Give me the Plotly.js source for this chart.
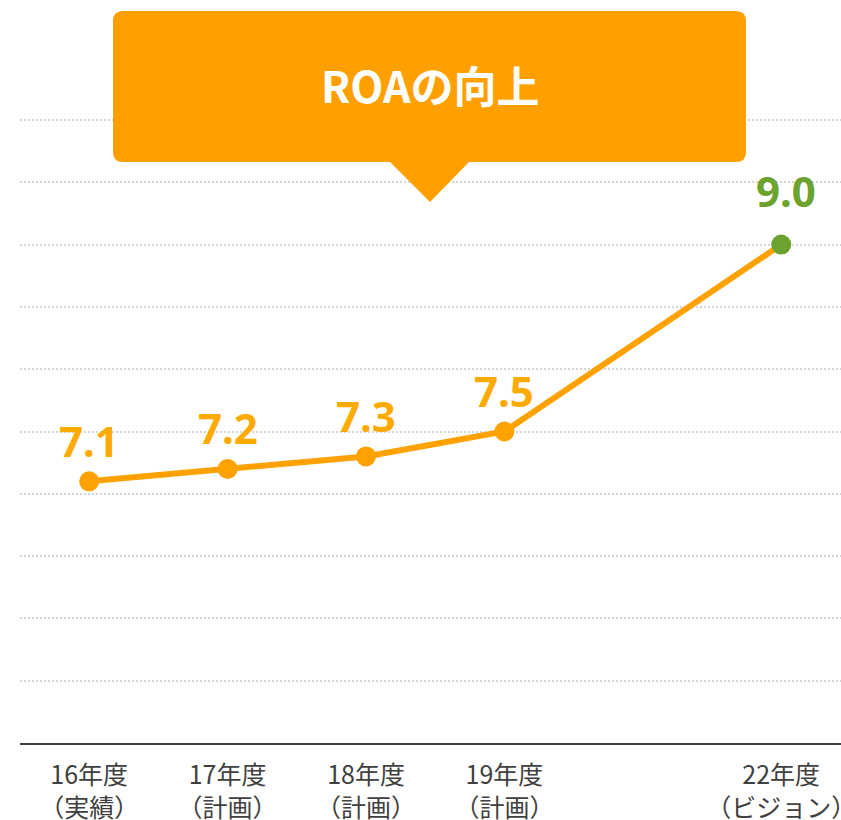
<!DOCTYPE html>
<html><head><meta charset="utf-8">
<script src="https://cdn.plot.ly/plotly-3.0.1.min.js"></script>
<style>html,body{margin:0;padding:0;background:#fff}#chart{width:841px;height:820px}</style>
</head><body><div id="chart"></div>
<script>
const categories = ['16年度<br>（実績）','17年度<br>（計画）','18年度<br>（計画）','19年度<br>（計画）',' ','22年度<br>（ビジョン）'];
const pointCategories = ['16年度<br>（実績）','17年度<br>（計画）','18年度<br>（計画）','19年度<br>（計画）','22年度<br>（ビジョン）'];
const roa = [7.1, 7.2, 7.3, 7.5, 9.0];
const valueLabels = ['7.1','7.2','7.3','7.5','9.0'];
const calloutTitle = 'ROAの向上';

const ORANGE = '#FFA200', LABEL_ORANGE = '#FFAA00', BOX = '#FF9F00', GREEN = '#6BA32E';
const W = 841, H = 820, M = {l:20, r:0, t:10, b:77};
const pw = W - M.l - M.r, ph = H - M.t - M.b;
const fx = X => (X - M.l) / pw;
const fy = Y => (H - M.b - Y) / ph;
const P = (X, Y) => fx(X).toFixed(5) + ',' + fy(Y).toFixed(5);

const bx1 = 113, bx2 = 746, by1 = 11, by2 = 162, r = 10;
const path = 'M' + P(bx1 + r, by1) + ' L' + P(bx2 - r, by1) + ' Q' + P(bx2, by1) + ' ' + P(bx2, by1 + r) +
  ' L' + P(bx2, by2 - r) + ' Q' + P(bx2, by2) + ' ' + P(bx2 - r, by2) +
  ' L' + P(469, by2) + ' L' + P(430, 202) + ' L' + P(390, by2) +
  ' L' + P(bx1 + r, by2) + ' Q' + P(bx1, by2) + ' ' + P(bx1, by2 - r) +
  ' L' + P(bx1, by1 + r) + ' Q' + P(bx1, by1) + ' ' + P(bx1 + r, by1) + ' Z';

const markerColors = roa.map((v, i) => i === roa.length - 1 ? GREEN : ORANGE);
const labelColors = roa.map((v, i) => i === roa.length - 1 ? GREEN : LABEL_ORANGE);

const trace = {
  type: 'scatter', mode: 'lines+markers',
  x: pointCategories, y: roa,
  line: {color: ORANGE, width: 6},
  marker: {color: markerColors, size: 20},
  hoverinfo: 'skip', cliponaxis: false
};

const annotations = roa.map((v, i) => ({
  x: pointCategories[i], y: v, xref: 'x', yref: 'y',
  text: valueLabels[i], showarrow: false,
  yanchor: 'middle', xanchor: 'center',
  yshift: i === roa.length - 1 ? 54 : 41,
  xshift: i === roa.length - 1 ? 5 : 0,
  font: {family: 'Noto Sans, sans-serif', size: 42, weight: 'bold', color: labelColors[i]}
}));
annotations.push({
  xref: 'paper', yref: 'paper', x: fx(430), y: fy(84),
  text: calloutTitle, showarrow: false, xanchor: 'center', yanchor: 'middle',
  font: {family: 'Noto Sans CJK JP, sans-serif', size: 43, weight: 'bold', color: '#ffffff'}
});

const layout = {
  width: W, height: H,
  margin: M,
  paper_bgcolor: '#ffffff', plot_bgcolor: '#ffffff',
  showlegend: false,
  xaxis: {
    type: 'category', categoryorder: 'array', categoryarray: categories,
    range: [-0.5, 5.432],
    showgrid: false, zeroline: false,
    showline: true, linecolor: '#404040', linewidth: 2,
    ticks: '', ticklen: 0, ticklabelstandoff: 9,
    tickfont: {family: 'Noto Sans CJK JP, sans-serif', size: 25, color: '#404040'},
    fixedrange: true
  },
  yaxis: {
    range: [5, 5 + ph / 124.6],
    tickvals: [5.5, 6, 6.5, 7, 7.5, 8, 8.5, 9, 9.5, 10],
    showticklabels: false, ticks: '',
    showgrid: true, gridcolor: '#d4d4d4', gridwidth: 2, griddash: '2px,2px',
    zeroline: false, showline: false, fixedrange: true
  },
  shapes: [{type: 'path', xref: 'paper', yref: 'paper', path: path, fillcolor: BOX, line: {width: 0}, layer: 'above'}],
  annotations: annotations
};

Plotly.newPlot('chart', [trace], layout, {displayModeBar: false, staticPlot: true});
</script>
</body></html>
